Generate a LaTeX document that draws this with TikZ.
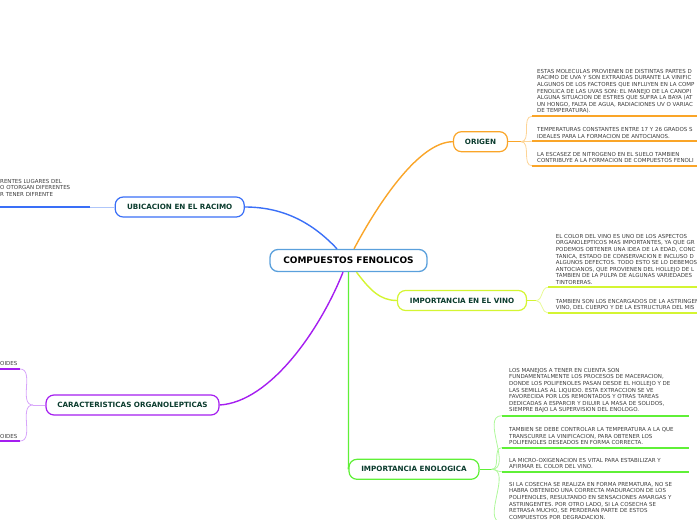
\documentclass[tikz,border=0pt]{standalone}
\usepackage{fontspec}
\setmainfont{DejaVu Sans}
\usepackage{xcolor}
\usetikzlibrary{positioning,calc}
\definecolor{rootC}{RGB}{90,160,220}
\definecolor{orgC}{RGB}{250,165,40}
\definecolor{orgL}{RGB}{253,212,150}
\definecolor{ubiC}{RGB}{58,111,247}
\definecolor{ubiL}{RGB}{175,198,250}
\definecolor{carC}{RGB}{165,30,240}
\definecolor{carL}{RGB}{215,165,250}
\definecolor{vinC}{RGB}{212,245,50}
\definecolor{vinL}{RGB}{232,250,150}
\definecolor{enoC}{RGB}{95,240,55}
\definecolor{enoL}{RGB}{175,248,155}
\definecolor{topicTxt}{RGB}{11,60,46}
\definecolor{leafTxt}{RGB}{60,60,60}
\tikzset{
  root/.style={draw=rootC, line width=1.3pt, rounded corners=8pt, fill=white, minimum width=157pt, minimum height=22pt, inner sep=0pt, font=\fontsize{9}{10}\selectfont\bfseries, text=black},
  topic/.style={draw=#1, line width=1.2pt, rounded corners=8pt, fill=white, minimum height=20pt, inner sep=0pt, font=\fontsize{7.2}{8}\selectfont\bfseries, text=topicTxt},
  leaf/.style={anchor=south west, inner sep=0pt, align=left, font=\fontsize{5.5}{6.6}\selectfont, text=leafTxt},
  mainc/.style={draw=#1, line width=1.4pt},
  subc/.style={draw=#1, line width=0.8pt},
  uline/.style={draw=#1, line width=2.2pt},
}

\begin{document}
\begin{tikzpicture}[x=1pt,y=-1pt]
\useasboundingbox (0,0) rectangle (697,520);
\clip (0,0) rectangle (697,520);
% --- topics ---
\node[root] (root) at (348.5,260.5) {COMPUESTOS FENOLICOS};
\node[topic=orgC, minimum width=54pt] (org) at (480.5,141.7) {ORIGEN};
\node[topic=ubiC, minimum width=129pt] (ubi) at (179.7,207) {UBICACION EN EL RACIMO};
\node[topic=carC, minimum width=173pt] (car) at (132.5,405) {CARACTERISTICAS ORGANOLEPTICAS};
\node[topic=vinC, minimum width=129pt] (vin) at (462,300.5) {IMPORTANCIA EN EL VINO};
\node[topic=enoC, minimum width=130pt] (eno) at (414,469.3) {IMPORTANCIA ENOLOGICA};
% --- root to topics ---
\draw[mainc=orgC] ($(root.north)+(5.5,0)$) .. controls (380,200) and (420,141.7) .. (org.west);
\draw[mainc=ubiC] ($(root.north)+(-11.5,0)$) .. controls (310,220) and (280,207) .. (ubi.east);
\draw[mainc=carC] ($(root.south)+(-5.5,0)$) .. controls (320,330) and (270,402) .. (car.east);
\draw[mainc=vinC] ($(root.south)+(8,0)$) .. controls (370,290) and (380,300.5) .. (vin.west);
\draw[mainc=enoC] (root.south) .. controls (348.5,469.3) .. (eno.west);
% --- ORIGEN ---
\coordinate (orgJ) at (521,141.7);
\coordinate (o1) at (532,116.3); \coordinate (o1e) at (705,116.3);
\coordinate (o2) at (532,141.3); \coordinate (o2e) at (705,141.3);
\coordinate (o3) at (532,165.7); \coordinate (o3e) at (705,165.7);
\draw[mainc=orgC] (org.east) -- (orgJ);
\draw[subc=orgL] (orgJ) to[out=0,in=180] (o1);
\draw[subc=orgL] (orgJ) -- (o2);
\draw[subc=orgL] (orgJ) to[out=0,in=180] (o3);
\draw[uline=orgC] (o1) -- (o1e);
\draw[uline=orgC] (o2) -- (o2e);
\draw[uline=orgC] (o3) -- (o3e);
\node[leaf] (o1t) at (537,113.8) {ESTAS MOLECULAS PROVIENEN DE DISTINTAS PARTES D\\RACIMO DE UVA Y SON EXTRAIDAS DURANTE LA VINIFIC\\ALGUNOS DE LOS FACTORES QUE INFLUYEN EN LA COMP\\FENOLICA DE LAS UVAS SON: EL MANEJO DE LA CANOPI\\ALGUNA SITUACION DE ESTRES QUE SUFRA LA BAYA (AT\\UN HONGO, FALTA DE AGUA, RADIACIONES UV O VARIAC\\DE TEMPERATURA).};
\node[leaf] (o2t) at (537,138.8) {TEMPERATURAS CONSTANTES ENTRE 17 Y 26 GRADOS S\\IDEALES PARA LA FORMACION DE ANTOCIANOS.};
\node[leaf] (o3t) at (537,163.2) {LA ESCASEZ DE NITROGENO EN EL SUELO TAMBIEN\\CONTRIBUYE A LA FORMACION DE COMPUESTOS FENOLI};
% --- UBICACION EN EL RACIMO ---
\coordinate (ubiJ) at (90,207);
\coordinate (u1e) at (-5,207);
\draw[subc=ubiL] (ubi.west) -- (ubiJ);
\draw[uline=ubiC] (ubiJ) -- (u1e);
\node[leaf] (u1t) at (0,196.5) {RENTES LUGARES DEL\\O OTORGAN DIFERENTES\\R TENER DIFRENTE};
% --- CARACTERISTICAS ORGANOLEPTICAS ---
\coordinate (carJ) at (33,405);
\coordinate (k1) at (20,369); \coordinate (k1e) at (-5,369);
\coordinate (k2) at (20,441); \coordinate (k2e) at (-5,441);
\draw[subc=carL] (car.west) -- (carJ);
\draw[subc=carL] (carJ) to[out=180,in=0] (k1);
\draw[subc=carL] (carJ) to[out=180,in=0] (k2);
\draw[uline=carC] (k1) -- (k1e);
\draw[uline=carC] (k2) -- (k2e);
\node[leaf] (k1t) at (0,366) {OIDES};
\node[leaf] (k2t) at (0,438.5) {OIDES};
% --- IMPORTANCIA EN EL VINO ---
\coordinate (vinJ) at (536,300.5);
\coordinate (v1) at (548,287.3); \coordinate (v1e) at (705,287.3);
\coordinate (v2) at (548,313); \coordinate (v2e) at (705,313);
\draw[mainc=vinC] (vin.east) -- (vinJ);
\draw[subc=vinL] (vinJ) to[out=0,in=180] (v1);
\draw[subc=vinL] (vinJ) to[out=0,in=180] (v2);
\draw[uline=vinC] (v1) -- (v1e);
\draw[uline=vinC] (v2) -- (v2e);
\node[leaf] (v1t) at (555.7,284.8) {EL COLOR DEL VINO ES UNO DE LOS ASPECTOS\\ORGANOLEPTICOS MAS IMPORTANTES, YA QUE GR\\PODEMOS OBTENER UNA IDEA DE LA EDAD, CONC\\TANICA, ESTADO DE CONSERVACION E INCLUSO D\\ALGUNOS DEFECTOS. TODO ESTO SE LO DEBEMOS\\ANTOCIANOS, QUE PROVIENEN DEL HOLLEJO DE L\\TAMBIEN DE LA PULPA DE ALGUNAS VARIEDADES\\TINTORERAS.};
\node[leaf] (v2t) at (555.7,310.5) {TAMBIEN SON LOS ENCARGADOS DE LA ASTRINGEN\\VINO, DEL CUERPO Y DE LA ESTRUCTURA DEL MIS};
% --- IMPORTANCIA ENOLOGICA ---
\coordinate (enoJ) at (491.7,469.3);
\coordinate (e1) at (501.7,415.7); \coordinate (e1e) at (689,415.7);
\coordinate (e2) at (501.7,447.7); \coordinate (e2e) at (689,447.7);
\coordinate (e3) at (501.7,471.7); \coordinate (e3e) at (689,471.7);
\coordinate (e4) at (501.7,522);   \coordinate (e4e) at (689,522);
\draw[mainc=enoC] (eno.east) -- (enoJ);
\draw[subc=enoL] (enoJ) to[out=0,in=180] (e1);
\draw[subc=enoL] (enoJ) to[out=0,in=180] (e2);
\draw[subc=enoL] (enoJ) to[out=0,in=180] (e3);
\draw[subc=enoL] (enoJ) to[out=0,in=180] (e4);
\draw[uline=enoC] (e1) -- (e1e);
\draw[uline=enoC] (e2) -- (e2e);
\draw[uline=enoC] (e3) -- (e3e);
\draw[uline=enoC] (e4) -- (e4e);
\node[leaf] (e1t) at (509,413.2) {LOS MANEJOS A TENER EN CUENTA SON\\FUNDAMENTALMENTE LOS PROCESOS DE MACERACION,\\DONDE LOS POLIFENOLES PASAN DESDE EL HOLLEJO Y DE\\LAS SEMILLAS AL LIQUIDO. ESTA EXTRACCION SE VE\\FAVORECIDA POR LOS REMONTADOS Y OTRAS TAREAS\\DEDICADAS A ESPARCIR Y DILUIR LA MASA DE SOLIDOS,\\SIEMPRE BAJO LA SUPERVISION DEL ENOLOGO.};
\node[leaf] (e2t) at (509,445.2) {TAMBIEN SE DEBE CONTROLAR LA TEMPERATURA A LA QUE\\TRANSCURRE LA VINIFICACION, PARA OBTENER LOS\\POLIFENOLES DESEADOS EN FORMA CORRECTA.};
\node[leaf] (e3t) at (509,469.2) {LA MICRO-OXIGENACION ES VITAL PARA ESTABILIZAR Y\\AFIRMAR EL COLOR DEL VINO.};
\node[leaf] (e4t) at (509,519.5) {SI LA COSECHA SE REALIZA EN FORMA PREMATURA, NO SE\\HABRA OBTENIDO UNA CORRECTA MADURACION DE LOS\\POLIFENOLES, RESULTANDO EN SENSACIONES AMARGAS Y\\ASTRINGENTES. POR OTRO LADO, SI LA COSECHA SE\\RETRASA MUCHO, SE PERDERAN PARTE DE ESTOS\\COMPUESTOS POR DEGRADACION.};
\end{tikzpicture}
\end{document}
